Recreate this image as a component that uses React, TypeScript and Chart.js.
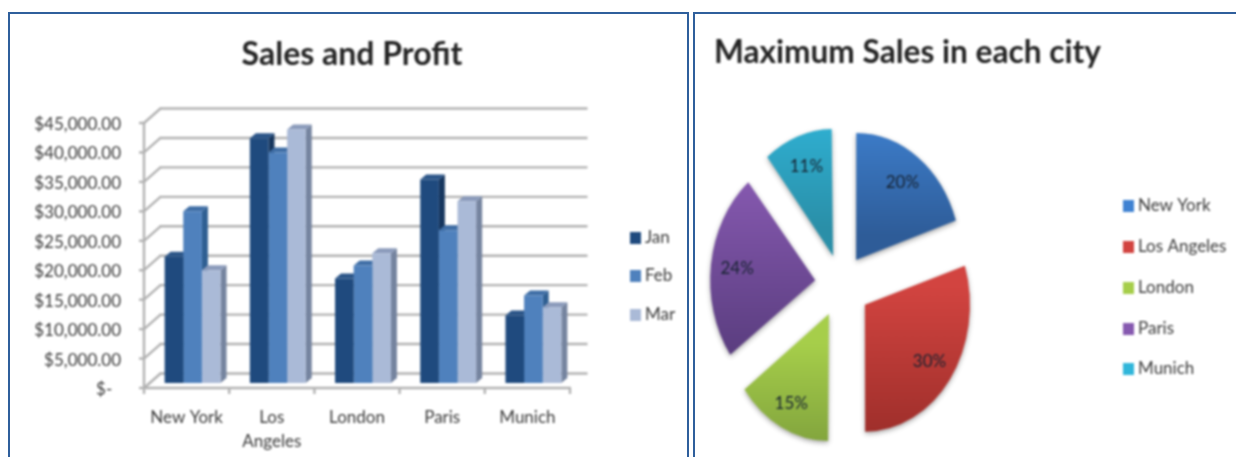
import React, { useEffect, useRef } from "react";
import { Chart, registerables } from "chart.js";

Chart.register(...registerables);

const cities = ["New York", "Los Angeles", "London", "Paris", "Munich"];
const janSales = [22300, 42400, 18600, 35400, 12300];
const febSales = [30000, 40000, 20800, 26800, 15700];
const marSales = [20000, 43900, 22900, 31700, 13700];
const seriesNames = ["Jan", "Feb", "Mar"];
const citySharePercent = [20, 30, 15, 24, 11];

const FONT = "Lato, Carlito, 'Open Sans', sans-serif";
const TEXT = "#3a3a3a";
const GRID = "#b2b2b2";
const barFront = ["#1f4a7e", "#4f81bd", "#aabad7"];
const barSide = ["#16365e", "#2f5f92", "#75849f"];
const barTop = ["#2b5588", "#3f6ea6", "#8b9bbb"];
const pieTop = ["#3f82d2", "#d24440", "#a6ce4a", "#8659b0", "#30b6da"];
const pieBottom = ["#2e5c98", "#982c28", "#78993a", "#5b3e80", "#2a8fa8"];

const DEPTH_X = 16.5;
const DEPTH_Y = 14.5;
const BAR_DX = 6;
const BAR_SIDE_X = 6;
const BAR_SIDE_Y = 5;
const BAR_FLOOR_VALUE = 850;

const pieOffsets = [30, 35, 33.5, 32, 30];
const pieLabelRatio = [0.75, 0.76, 0.79, 0.75, 0.75];
const PIE_RADIUS = 127;
const PIE_X_SCALE = 0.827;
const PIE_SHIFT_X = -66;

function drawLegend(ctx: CanvasRenderingContext2D, names: string[], colors: string[], x: number, ys: number[], size: number) {
  ctx.save();
  ctx.font = `${size}px ${FONT}`;
  ctx.textBaseline = "middle";
  ctx.textAlign = "left";
  names.forEach((name, i) => {
    ctx.fillStyle = colors[i];
    ctx.fillRect(x, ys[i] - 6, 11, 12);
    ctx.fillStyle = TEXT;
    ctx.fillText(name, x + 15, ys[i]);
  });
  ctx.restore();
}

const barFramePlugin = {
  id: "barFrame",
  beforeDatasetsDraw(chart: any) {
    const { ctx } = chart;
    const x = chart.scales.x;
    const y = chart.scales.y;
    const area = chart.chartArea;
    ctx.save();
    ctx.strokeStyle = GRID;
    ctx.lineWidth = 2.4;
    ctx.lineCap = "butt";
    const line = (a: number, b: number, c: number, d: number) => {
      ctx.beginPath();
      ctx.moveTo(a, b);
      ctx.lineTo(c, d);
      ctx.stroke();
    };
    y.ticks.forEach((t: any) => {
      const py = y.getPixelForValue(t.value);
      line(area.left - 5, py, area.left, py);
      line(area.left, py, area.left + DEPTH_X, py - DEPTH_Y);
      line(area.left + DEPTH_X - 1, py - DEPTH_Y, area.right + DEPTH_X + 1, py - DEPTH_Y);
    });
    line(area.left, area.top, area.left, area.bottom);
    line(area.left, area.bottom, area.right + 1, area.bottom);
    const step = (area.right - area.left) / x.ticks.length;
    for (let i = 0; i <= x.ticks.length; i++) {
      const px = area.left + i * step;
      line(px, area.bottom, px, area.bottom + 6);
    }
    ctx.restore();

    ctx.save();
    ctx.translate(BAR_DX, 0);
    chart.data.datasets.forEach((_: any, di: number) => {
      chart.getDatasetMeta(di).data.forEach((bar: any) => {
        const left = bar.x - bar.width / 2;
        const right = bar.x + bar.width / 2;
        ctx.fillStyle = barSide[di];
        ctx.beginPath();
        ctx.moveTo(right, bar.y);
        ctx.lineTo(right + BAR_SIDE_X, bar.y - BAR_SIDE_Y);
        ctx.lineTo(right + BAR_SIDE_X, bar.base - BAR_SIDE_Y);
        ctx.lineTo(right, bar.base);
        ctx.closePath();
        ctx.fill();
        ctx.fillStyle = barTop[di];
        ctx.beginPath();
        ctx.moveTo(left, bar.y);
        ctx.lineTo(left + BAR_SIDE_X, bar.y - BAR_SIDE_Y);
        ctx.lineTo(right + BAR_SIDE_X, bar.y - BAR_SIDE_Y);
        ctx.lineTo(right, bar.y);
        ctx.closePath();
        ctx.fill();
      });
    });
  },
  afterDatasetsDraw(chart: any) {
    chart.ctx.restore();
    drawLegend(chart.ctx, seriesNames, barFront, 620, [224, 262, 301], 17);
  },
};

const piePlugin = {
  id: "pieExtras",
  beforeDatasetsDraw(chart: any) {
    const { ctx, chartArea } = chart;
    const cx = (chartArea.left + chartArea.right) / 2;
    // Chart.js enlarges narrow exploded slices; keep every slice at the same radius.
    chart.getDatasetMeta(0).data.forEach((arc: any, i: number) => {
      const fix = 1 - Math.sin(Math.min(Math.PI, arc.circumference));
      arc.outerRadius = PIE_RADIUS - pieOffsets[i] * fix;
    });
    ctx.save();
    ctx.translate(cx + PIE_SHIFT_X, 0);
    ctx.scale(PIE_X_SCALE, 1);
    ctx.translate(-cx, 0);
    ctx.shadowColor = "rgba(0,0,0,0.35)";
    ctx.shadowBlur = 5;
    ctx.shadowOffsetY = 2;
  },
  afterDatasetsDraw(chart: any) {
    const { ctx, chartArea } = chart;
    ctx.restore();
    const cx = (chartArea.left + chartArea.right) / 2 + PIE_SHIFT_X;
    const cy = (chartArea.top + chartArea.bottom) / 2;
    ctx.save();
    ctx.font = `17px ${FONT}`;
    ctx.fillStyle = "#162230";
    ctx.textAlign = "center";
    ctx.textBaseline = "middle";
    chart.getDatasetMeta(0).data.forEach((arc: any, i: number) => {
      const mid = (arc.startAngle + arc.endAngle) / 2;
      const r = pieOffsets[i] + PIE_RADIUS * pieLabelRatio[i];
      ctx.fillText(`${citySharePercent[i]}%`, cx + Math.cos(mid) * r * PIE_X_SCALE, cy + Math.sin(mid) * r);
    });
    ctx.restore();
    drawLegend(ctx, cities, pieTop, 428, [192, 233, 274, 315, 355], 17);
  },
};

function sliceGradient(c: any) {
  const chart = c.chart;
  const area = chart.chartArea;
  const i = c.dataIndex;
  if (!area) return pieTop[i];
  const data: number[] = c.dataset.data;
  const total = data.reduce((s, v) => s + v, 0);
  const before = data.slice(0, i).reduce((s, v) => s + v, 0);
  const a0 = (before / total) * 2 * Math.PI;
  const a1 = ((before + data[i]) / total) * 2 * Math.PI;
  const mid = (a0 + a1) / 2;
  const apex = (area.top + area.bottom) / 2 - Math.cos(mid) * pieOffsets[i];
  const ys = [0];
  for (let k = 0; k <= 24; k++) ys.push(-Math.cos(a0 + ((a1 - a0) * k) / 24) * PIE_RADIUS);
  const g = chart.ctx.createLinearGradient(0, apex + Math.min(...ys), 0, apex + Math.max(...ys));
  g.addColorStop(0, pieTop[i]);
  g.addColorStop(1, pieBottom[i]);
  return g;
}

export default function App() {
  const barRef = useRef<HTMLCanvasElement>(null);
  const pieRef = useRef<HTMLCanvasElement>(null);

  useEffect(() => {
    const barChart = new Chart(barRef.current as HTMLCanvasElement, {
      type: "bar",
      data: {
        labels: cities,
        datasets: [janSales, febSales, marSales].map((values, i) => ({
          label: seriesNames[i],
          data: values,
          backgroundColor: barFront[i],
          base: BAR_FLOOR_VALUE,
          categoryPercentage: 0.656,
          barPercentage: 1,
          clip: false,
        })),
      } as any,
      options: {
        responsive: false,
        animation: false,
        plugins: {
          legend: { display: false },
          tooltip: { enabled: false },
          title: {
            display: true,
            text: "Sales and Profit",
            color: "#242424",
            font: { family: FONT, size: 32, weight: "bold", lineHeight: 1.2 },
            padding: { top: 21.6, bottom: 49 },
          },
        },
        scales: {
          x: {
            grid: { display: false, drawTicks: false },
            border: { display: false },
            ticks: {
              color: TEXT,
              maxRotation: 0,
              autoSkip: false,
              padding: 17,
              font: { family: FONT, size: 17, lineHeight: 1.45 },
              callback(this: any, v: any) {
                const name = this.getLabelForValue(v);
                return name === "Los Angeles" ? name.split(" ") : name;
              },
            },
            afterFit(s: any) {
              s.height = 69;
            },
          },
          y: {
            min: 0,
            max: 45000,
            grid: { display: false, drawTicks: false },
            border: { display: false },
            ticks: {
              stepSize: 5000,
              color: TEXT,
              padding: 23,
              labelOffset: 1.5,
              font: { family: FONT, size: 17 },
              callback: (v: any) =>
                v === 0 ? "$-  " : "$" + Number(v).toLocaleString("en-US", { minimumFractionDigits: 2 }),
            },
            afterFit(s: any) {
              s.width = 134;
            },
          },
          // Empty scale that reserves the room the legend is drawn in.
          legendGutter: {
            type: "linear",
            axis: "y",
            position: "right",
            grid: { display: false, drawTicks: false },
            border: { display: false },
            ticks: { display: false },
            afterFit(s: any) {
              s.width = 124;
            },
          },
        },
      } as any,
      plugins: [barFramePlugin],
    });

    const pieChart = new Chart(pieRef.current as HTMLCanvasElement, {
      type: "pie",
      data: {
        labels: cities,
        datasets: [
          {
            data: citySharePercent,
            backgroundColor: sliceGradient,
            borderWidth: 0,
            offset: pieOffsets.map((d) => d * 4),
            radius: PIE_RADIUS,
          },
        ],
      } as any,
      options: {
        responsive: false,
        animation: false,
        layout: { padding: { left: 19, right: 135, top: 0, bottom: 0 } },
        plugins: {
          legend: { display: false },
          tooltip: { enabled: false },
          title: {
            display: true,
            text: "Maximum Sales in each city",
            align: "start",
            color: "#242424",
            font: { family: FONT, size: 32, weight: "bold", lineHeight: 1.2 },
            padding: { top: 19, bottom: 40 },
          },
        },
      } as any,
      plugins: [piePlugin],
    });

    return () => {
      barChart.destroy();
      pieChart.destroy();
    };
  }, []);

  const panel = (left: number, width: number): React.CSSProperties => ({
    position: "absolute",
    left,
    top: 12,
    width,
    height: 460,
    boxSizing: "border-box",
    border: "2px solid #2f5f9c",
    background: "#fff",
  });
  const canvasStyle: React.CSSProperties = { position: "absolute", top: 14, filter: "blur(0.8px)" };

  return (
    <div style={{ position: "fixed", inset: 0, overflow: "hidden", background: "#fff" }}>
      <div style={panel(8, 681)} />
      <div style={panel(693, 560)} />
      <canvas ref={barRef} width={684} height={443} style={{ ...canvasStyle, left: 10 }} />
      <canvas ref={pieRef} width={541} height={443} style={{ ...canvasStyle, left: 695 }} />
    </div>
  );
}
